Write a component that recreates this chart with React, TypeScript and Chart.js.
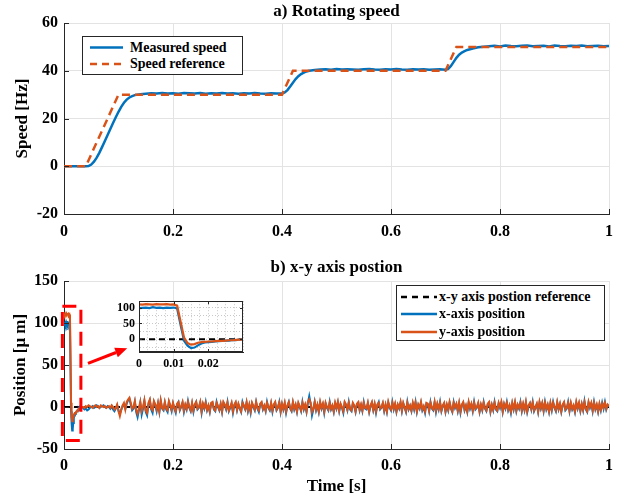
import React, { useEffect, useRef } from "react";
import { Chart, registerables } from "chart.js";
Chart.register(...registerables);

const FONT = "'Liberation Serif', 'Times New Roman', serif";
const BLUE = "#0072BD";
const ORANGE = "#D95319";
const AXIS = "#262626";
const GRID = "#e3e3e3";

// ---------- a) Rotating speed ----------
const MAIN_X_TICKS = [0, 0.2, 0.4, 0.6, 0.8, 1];
const SPEED_Y_TICKS = [-20, 0, 20, 40, 60];
const SPEED_REF_TIME = [0, 0.04, 0.1, 0.4, 0.42, 0.7, 0.72, 1];
const SPEED_REF = [0, 0, 30, 30, 40, 40, 50, 50];
const MEASURED_SPEED: [number, number][] = [
  [0, 0], [0.02, 0], [0.04, 0], [0.045, 0.1], [0.05, 0.7], [0.055, 1.9], [0.06, 3.6], [0.065, 5.7],
  [0.07, 8.1], [0.075, 10.6], [0.08, 13.1], [0.085, 15.6], [0.09, 18.1], [0.095, 20.5], [0.1, 22.8],
  [0.105, 24.9], [0.11, 26.6], [0.115, 27.9], [0.12, 28.8], [0.125, 29.4], [0.13, 29.8], [0.14, 30.2],
  [0.15, 30.4], [0.16, 30.6], [0.17, 30.5], [0.18, 30.7], [0.19, 30.5], [0.2, 30.6], [0.21, 30.4],
  [0.22, 30.7], [0.23, 30.6], [0.24, 30.5], [0.25, 30.7], [0.26, 30.4], [0.27, 30.6], [0.28, 30.5],
  [0.29, 30.7], [0.3, 30.5], [0.31, 30.6], [0.32, 30.4], [0.33, 30.6], [0.34, 30.5], [0.35, 30.7],
  [0.36, 30.5], [0.37, 30.4], [0.38, 30.6], [0.39, 30.5], [0.4, 30.5],
  [0.405, 30.9], [0.41, 31.9], [0.415, 33.4], [0.42, 35.0], [0.425, 36.5], [0.43, 37.7], [0.435, 38.6],
  [0.44, 39.2], [0.445, 39.7], [0.45, 40.0], [0.46, 40.3],
  [0.47, 40.5], [0.48, 40.6], [0.49, 40.4], [0.5, 40.7], [0.51, 40.5], [0.52, 40.6], [0.53, 40.5],
  [0.54, 40.4], [0.55, 40.6], [0.56, 40.7], [0.57, 40.5], [0.58, 40.4], [0.59, 40.6], [0.6, 40.5],
  [0.61, 40.7], [0.62, 40.5], [0.63, 40.4], [0.64, 40.6], [0.65, 40.5], [0.66, 40.6], [0.67, 40.4],
  [0.68, 40.5], [0.69, 40.6], [0.7, 40.4],
  [0.705, 40.8], [0.71, 42.0], [0.715, 43.7], [0.72, 45.4], [0.725, 46.7], [0.73, 47.6], [0.735, 48.2],
  [0.74, 48.7], [0.75, 49.3], [0.76, 49.8], [0.77, 50.1],
  [0.78, 50.3], [0.79, 50.5], [0.8, 50.2], [0.81, 50.6], [0.82, 50.4], [0.83, 50.3], [0.84, 50.5],
  [0.85, 50.6], [0.86, 50.3], [0.87, 50.4], [0.88, 50.5], [0.89, 50.2], [0.9, 50.6], [0.91, 50.4],
  [0.92, 50.3], [0.93, 50.5], [0.94, 50.4], [0.95, 50.6], [0.96, 50.3], [0.97, 50.4], [0.98, 50.5],
  [0.99, 50.3], [1, 50.4],
];

// ---------- b) x-y axis position ----------
const POS_Y_TICKS = [-50, 0, 50, 100, 150];
const POS_REF_TIME = [0, 1];
const POS_REF = [0, 0];
const TRANSIENT_TIME = [
  0, 0.001, 0.002, 0.003, 0.004, 0.005, 0.006, 0.007, 0.008, 0.009, 0.01,
  0.011, 0.012, 0.013, 0.014, 0.015, 0.016, 0.017, 0.018, 0.019, 0.02,
  0.021, 0.022, 0.023, 0.024, 0.025, 0.026, 0.027, 0.028, 0.029, 0.03,
];
const X_TRANSIENT = [
  98, 99, 100, 98, 101, 99, 100, 98, 100, 99, 100,
  97, 45, -5, -20, -28, -26, -19, -13, -10, -9,
  -8, -7, -6, -5, -4, -4, -2, -3, 0, 1,
];
const Y_TRANSIENT = [
  110, 109, 111, 110, 109, 111, 110, 110, 111, 109, 110,
  106, 55, 5, -12, -17, -15, -11, -9, -8, -7,
  -7, -6, -5, -5, -4, -3, -3, -2, -1, 0,
];
// samples every 2.5 ms from 35 ms to 1 s
const NOISE_START = 0.035;
const NOISE_STEP = 0.0025;
const X_NOISE = [
  -1, -3, -2, -4, -3, -1, 0, 1, -1, 0, 2, 1, -1, 0, 1, 2, 0, -1, 1, 0,
  -2, 1, -3, -5, -2, 2, -4, -8, -3, 1, 3, -2, 4, 8, 10, 3, -4, -2, 6, -6,
  -12, -4, 5, -9, -2, 7, -6, -10, 3, 8, -3, -7, 6, 2, -5, 4, -6, 7, -2, -4,
  5, -3, -6, 6, 1, -5, 4, -2, -7, 3, 6, -4, 0, 5, -6, 2, -3, 7, -1, -5,
  4, -6, 2, 6, -3, -1, 5, -7, 3, -2, 6, -4, 1, -6, 4, 5, -3, -5, 6, 0,
  -4, 3, -6, 5, 2, -3, 6, -5, -1, 4, -7, 2, 5, -4, 3, -2, -6, 6, 1, -3,
  5, -5, 2, -7, 4, 0, -4, 6, -2, -6, 3, 5, -3, 1, -5, 6, -1, -4, 4, -6,
  2, 5, -4, -1, 6, -6, 3, -3, 4, -7, 1, 6, -2, -5, 5, -3, 2, -6, 4, 0,
  -5, 6, -3, 2, -6, 5, 13, 4, -10, -3, 6, -4, 2, -6, 5, -2, 3, -7, 4, -1,
  -4, 6, -3, 1, -6, 4, -2, 5, -5, 3, -1, -7, 5, 2, -4, 6, -3, -5, 4, 1,
  -6, 3, 5, -4, 2, -5, 6, -2, -3, 4, -6, 1, 5, -4, 3, -7, 2, 6, -3, -1,
  4, -5, 2, -6, 5, -1, -4, 6, -3, 3, -6, 2, -2, 5, -5, 4, -1, -6, 6, -3,
  1, -5, 4, -3, 6, -6, 2, -2, 5, -4, 0, -7, 4, 3, -5, 6, -2, -4, 5, -6,
  3, -3, 6, -5, 1, 4, -6, 2, -4, 5, -2, -6, 6, -1, 3, -5, 4, -7, 2, 5,
  -4, 1, -6, 5, -2, 3, -5, 6, -3, -1, 4, -6, 2, -4, 6, -2, -5, 3, 5, -6,
  2, -4, 6, -3, -5, 4, -1, 5, -6, 3, -2, 6, -4, 1, -7, 4, -3, 5, -5, 2,
  -2, 6, -5, 3, -4, 5, -6, 1, 4, -3, 6, -5, -1, 3, -6, 5, -2, 4, -5, 6,
  -3, 2, -6, 4, -4, 6, -1, -5, 5, -3, 3, -6, 2, 5, -4, -2, 6, -5, 4, -3,
  1, -6, 5, -2, 4, -5, 3, -4, 7, -3, -6, 5, -1, 4, -5, 6, -3, 2, -6, 3,
  -4, 5, -2, 6, -3, 2, 1,
];
const Y_NOISE = [
  0, -1, 1, 0, 2, 1, 0, -1, 1, 2, 0, 1, -1, 2, 1, 0, 1, -1, 0, 1,
  -1, 2, 0, -3, -1, 3, -5, -11, -4, 2, 5, -3, 6, 9, 11, 5, -2, 0, 7, -4,
  -8, -1, 6, -5, 0, 8, -4, -7, 5, 9, -2, -4, 7, 3, -3, 5, -5, 8, -1, -3,
  6, -2, -4, 7, 2, -3, 5, -1, -5, 4, 6, -3, 1, 6, -4, 3, -2, 6, 0, -4,
  5, -4, 3, 6, -2, 0, 6, -5, 4, -1, 5, -3, 2, -5, 5, 6, -2, -4, 5, 1,
  -3, 4, -5, 6, 3, -2, 5, -4, 0, 5, -5, 3, 6, -3, 4, -1, -5, 5, 2, -2,
  6, -4, 3, -5, 5, 1, -3, 6, -1, -4, 4, 6, -2, 2, -4, 5, 0, -3, 5, -4,
  3, 6, -3, 0, 5, -5, 4, -2, 5, -5, 2, 6, -1, -4, 6, -2, 3, -5, 5, 1,
  -4, 5, -2, 3, -5, 6, 9, 5, -6, -2, 6, -3, 3, -5, 6, -1, 4, -5, 5, 0,
  -3, 5, -2, 2, -5, 5, -1, 6, -4, 4, 0, -5, 6, 3, -3, 5, -2, -4, 5, 2,
  -5, 4, 6, -3, 3, -4, 5, -1, -2, 5, -5, 2, 6, -3, 4, -5, 3, 5, -2, 0,
  5, -4, 3, -5, 6, 0, -3, 5, -2, 4, -5, 3, -1, 6, -4, 5, 0, -5, 5, -2,
  2, -4, 5, -2, 5, -5, 3, -1, 6, -3, 1, -5, 5, 4, -4, 5, -1, -3, 6, -4,
  4, -2, 5, -4, 2, 5, -5, 3, -3, 6, -1, -5, 5, 0, 4, -4, 5, -5, 3, 6,
  -3, 2, -5, 6, -1, 4, -4, 5, -2, 0, 5, -5, 3, -3, 5, -1, -4, 4, 6, -5,
  3, -3, 5, -2, -4, 5, 0, 6, -5, 4, -1, 5, -3, 2, -5, 5, -2, 6, -4, 3,
  -1, 5, -4, 4, -3, 6, -5, 2, 5, -2, 5, -4, 0, 4, -5, 6, -1, 5, -4, 5,
  -2, 3, -5, 5, -3, 5, 0, -4, 6, -2, 4, -5, 3, 6, -3, -1, 5, -4, 5, -2,
  2, -5, 6, -1, 5, -4, 4, -3, 6, -2, -5, 6, 0, 5, -4, 5, -2, 3, -5, 4,
  -3, 4, -1, 5, -2, 3, 1,
];
// zoom box and arrow annotation (data coordinates)
const ZOOM_BOX_X = [-0.003, 0.031];
const ZOOM_BOX_Y = [-40, 120];
const ARROW_TAIL = [0.044, 52];
const ARROW_HEAD = [0.116, 70];

// inset
const INSET_X_GRID = [0, 0.0025, 0.005, 0.0075, 0.01, 0.0125, 0.015, 0.0175, 0.02, 0.0225, 0.025, 0.0275, 0.03];
const INSET_Y_GRID = [-40, -25, 0, 25, 50, 75, 100, 120];
const INSET_X_LABELS = [0, 0.01, 0.02];
const INSET_Y_LABELS = [0, 50, 100];

const font = (size: number) => ({ family: FONT, size, weight: "bold" as const, lineHeight: 1.2 });
const pts = (xs: number[], ys: number[]) => xs.map((x, i) => ({ x, y: ys[i] }));
const near = (v: number, list: number[]) => list.some((l) => Math.abs(l - v) < 1e-7);

function tickMarks(xVals: number[], yVals: number[], len: number, box: boolean) {
  return {
    id: "tickMarks",
    afterDraw(chart: any) {
      const { ctx, chartArea: a, scales } = chart;
      ctx.save();
      ctx.strokeStyle = AXIS;
      ctx.lineWidth = 1;
      ctx.beginPath();
      xVals.forEach((v) => {
        const px = Math.round(scales.x.getPixelForValue(v)) + 0.5;
        ctx.moveTo(px, a.bottom);
        ctx.lineTo(px, a.bottom - len);
        if (box) {
          ctx.moveTo(px, a.top);
          ctx.lineTo(px, a.top + len);
        }
      });
      yVals.forEach((v) => {
        const py = Math.round(scales.y.getPixelForValue(v)) + 0.5;
        ctx.moveTo(a.left, py);
        ctx.lineTo(a.left + len, py);
        if (box) {
          ctx.moveTo(a.right, py);
          ctx.lineTo(a.right - len, py);
        }
      });
      ctx.stroke();
      if (box) {
        ctx.strokeRect(Math.round(a.left) + 0.5, Math.round(a.top) + 0.5, Math.round(a.right - a.left) - 1, Math.round(a.bottom - a.top) - 1);
      }
      ctx.restore();
    },
  };
}

const whitePlot = {
  id: "whitePlot",
  beforeDraw(chart: any) {
    const { ctx, chartArea: a } = chart;
    ctx.save();
    ctx.fillStyle = "#ffffff";
    ctx.fillRect(a.left, a.top, a.right - a.left, a.bottom - a.top);
    ctx.restore();
  },
};

const arrowPlugin = {
  id: "arrow",
  afterDatasetsDraw(chart: any) {
    const { ctx, scales } = chart;
    const x1 = scales.x.getPixelForValue(ARROW_TAIL[0]);
    const y1 = scales.y.getPixelForValue(ARROW_TAIL[1]);
    const x2 = scales.x.getPixelForValue(ARROW_HEAD[0]);
    const y2 = scales.y.getPixelForValue(ARROW_HEAD[1]);
    const ang = Math.atan2(y2 - y1, x2 - x1);
    const hl = 12, hw = 5;
    const bx = x2 - hl * Math.cos(ang), by = y2 - hl * Math.sin(ang);
    ctx.save();
    ctx.strokeStyle = "#ff0000";
    ctx.fillStyle = "#ff0000";
    ctx.lineWidth = 3;
    ctx.beginPath();
    ctx.moveTo(x1, y1);
    ctx.lineTo(bx, by);
    ctx.stroke();
    ctx.beginPath();
    ctx.moveTo(x2, y2);
    ctx.lineTo(bx + hw * Math.sin(ang), by - hw * Math.cos(ang));
    ctx.lineTo(bx - hw * Math.sin(ang), by + hw * Math.cos(ang));
    ctx.closePath();
    ctx.fill();
    ctx.restore();
  },
};

const fmtMainX = (v: any) => String(Math.round(Number(v) * 10) / 10);

function topConfig(): any {
  return {
    type: "line",
    data: {
      datasets: [
        {
          data: pts(SPEED_REF_TIME, SPEED_REF),
          borderColor: ORANGE,
          borderWidth: 2.5,
          borderDash: [8, 5],
          pointRadius: 0,
          order: 1,
        },
        {
          data: MEASURED_SPEED.map(([x, y]) => ({ x, y })),
          borderColor: BLUE,
          borderWidth: 2.5,
          pointRadius: 0,
          order: 2,
        },
      ],
    },
    options: {
      animation: false,
      responsive: false,
      events: [],
      layout: { padding: { left: 0, right: 23, top: 0, bottom: 0 } },
      elements: { line: { tension: 0 }, point: { radius: 0 } },
      plugins: {
        legend: { display: false },
        tooltip: { enabled: false },
        title: { display: true, fullSize: false, text: "a) Rotating speed", color: "#000", font: font(17), padding: { top: 1, bottom: 1.6 } },
      },
      scales: {
        x: {
          type: "linear", min: 0, max: 1,
          afterBuildTicks: (s: any) => { s.ticks = MAIN_X_TICKS.map((value) => ({ value })); },
          ticks: { color: "#000", font: font(16), padding: 8, maxRotation: 0, autoSkip: false, callback: fmtMainX },
          grid: { color: GRID, drawTicks: false },
          border: { color: AXIS, width: 1 },
          afterFit: (s: any) => { s.height = 38; },
        },
        y: {
          type: "linear", min: -20, max: 60,
          afterBuildTicks: (s: any) => { s.ticks = SPEED_Y_TICKS.map((value) => ({ value })); },
          ticks: { color: "#000", font: font(16), padding: 6, callback: (v: any) => String(v) },
          grid: { color: GRID, drawTicks: false },
          border: { color: AXIS, width: 1 },
          title: { display: true, text: "Speed [Hz]", color: "#000", font: font(17), padding: { top: 12, bottom: 0 } },
          afterFit: (s: any) => { s.width = 64; },
        },
      },
    },
    plugins: [tickMarks(MAIN_X_TICKS, SPEED_Y_TICKS, 5, false)],
  };
}

function positionSeries() {
  const xs = [
    ...pts(TRANSIENT_TIME, X_TRANSIENT),
    ...X_NOISE.map((y, i) => ({ x: +(NOISE_START + i * NOISE_STEP).toFixed(4), y })),
  ];
  const ys = [
    ...pts(TRANSIENT_TIME, Y_TRANSIENT),
    ...Y_NOISE.map((y, i) => ({ x: +(NOISE_START + i * NOISE_STEP).toFixed(4), y })),
  ];
  return { xs, ys };
}

function bottomConfig(): any {
  const { xs, ys } = positionSeries();
  const box = [
    { x: ZOOM_BOX_X[0], y: ZOOM_BOX_Y[1] },
    { x: ZOOM_BOX_X[1], y: ZOOM_BOX_Y[1] },
    { x: ZOOM_BOX_X[1], y: ZOOM_BOX_Y[0] },
    { x: ZOOM_BOX_X[0], y: ZOOM_BOX_Y[0] },
    { x: ZOOM_BOX_X[0], y: ZOOM_BOX_Y[1] },
  ];
  return {
    type: "line",
    data: {
      datasets: [
        { data: box, borderColor: "#ff0000", borderWidth: 3, borderDash: [14, 8], pointRadius: 0, clip: false, order: 0 },
        { data: ys, borderColor: ORANGE, borderWidth: 2, pointRadius: 0, order: 1 },
        { data: xs, borderColor: BLUE, borderWidth: 2, pointRadius: 0, order: 2 },
        { data: pts(POS_REF_TIME, POS_REF), borderColor: "#000", borderWidth: 2, borderDash: [6, 4], pointRadius: 0, order: 3 },
      ],
    },
    options: {
      animation: false,
      responsive: false,
      events: [],
      layout: { padding: { left: 0, right: 23, top: 0, bottom: 0 } },
      elements: { line: { tension: 0 }, point: { radius: 0 } },
      plugins: {
        legend: { display: false },
        tooltip: { enabled: false },
        title: { display: true, fullSize: false, text: "b) x-y axis postion", color: "#000", font: font(17), padding: { top: 5.5, bottom: 3.1 } },
      },
      scales: {
        x: {
          type: "linear", min: 0, max: 1,
          afterBuildTicks: (s: any) => { s.ticks = MAIN_X_TICKS.map((value) => ({ value })); },
          ticks: { color: "#000", font: font(16), padding: 7, maxRotation: 0, autoSkip: false, callback: fmtMainX },
          grid: { color: GRID, drawTicks: false },
          border: { color: AXIS, width: 1 },
          title: { display: true, text: "Time [s]", color: "#000", font: font(17), padding: { top: 0, bottom: 7 } },
          afterFit: (s: any) => { s.height = 55; },
        },
        y: {
          type: "linear", min: -50, max: 150,
          afterBuildTicks: (s: any) => { s.ticks = POS_Y_TICKS.map((value) => ({ value })); },
          ticks: { color: "#000", font: font(16), padding: 6, callback: (v: any) => String(v) },
          grid: { color: GRID, drawTicks: false },
          border: { color: AXIS, width: 1 },
          title: { display: true, text: "Position [μ m]", color: "#000", font: font(17), padding: { top: 10, bottom: 0 } },
          afterFit: (s: any) => { s.width = 64; },
        },
      },
    },
    plugins: [tickMarks(MAIN_X_TICKS, POS_Y_TICKS, 5, false), arrowPlugin],
  };
}

function insetConfig(): any {
  const { xs, ys } = positionSeries();
  const dotted = { color: "#c8c8c8", drawTicks: false, lineWidth: 1 };
  return {
    type: "line",
    data: {
      datasets: [
        { data: ys, borderColor: ORANGE, borderWidth: 2.2, pointRadius: 0, order: 1 },
        { data: xs, borderColor: BLUE, borderWidth: 2.2, pointRadius: 0, order: 2 },
        { data: pts(POS_REF_TIME, POS_REF), borderColor: "#000", borderWidth: 2, borderDash: [6, 4], pointRadius: 0, order: 3 },
      ],
    },
    options: {
      animation: false,
      responsive: false,
      events: [],
      layout: { padding: { left: 0, right: 7, top: 10, bottom: 0 } },
      elements: { line: { tension: 0 }, point: { radius: 0 } },
      plugins: { legend: { display: false }, tooltip: { enabled: false }, title: { display: false } },
      scales: {
        x: {
          type: "linear", min: 0, max: 0.03,
          afterBuildTicks: (s: any) => { s.ticks = INSET_X_GRID.map((value) => ({ value })); },
          ticks: {
            color: "#000", font: font(12), padding: 5, maxRotation: 0, autoSkip: false,
            callback: (v: any) => (near(Number(v), INSET_X_LABELS) ? String(Math.round(Number(v) * 100) / 100) : ""),
          },
          grid: dotted,
          border: { color: AXIS, width: 1, dash: [1, 2] },
          afterFit: (s: any) => { s.height = 23; },
        },
        y: {
          type: "linear", min: -40, max: 120,
          afterBuildTicks: (s: any) => { s.ticks = INSET_Y_GRID.map((value) => ({ value })); },
          ticks: {
            color: "#000", font: font(12), padding: 4, autoSkip: false,
            callback: (v: any) => (near(Number(v), INSET_Y_LABELS) ? String(v) : ""),
          },
          grid: dotted,
          border: { color: AXIS, width: 1, dash: [1, 2] },
          afterFit: (s: any) => { s.width = 44; },
        },
      },
    },
    plugins: [whitePlot, tickMarks(INSET_X_LABELS, INSET_Y_LABELS, 3, true)],
  };
}

type Row = { label: string; color: string; dash?: string; cy: number };

function Legend(props: { left: number; top: number; width: number; height: number; x1: number; x2: number; tx: number; rows: Row[] }) {
  const { left, top, width, height, x1, x2, tx, rows } = props;
  return (
    <div
      style={{
        position: "absolute", left, top, width, height, boxSizing: "border-box",
        border: `1px solid ${AXIS}`, background: "#fff",
      }}
    >
      <svg width={width} height={height} style={{ position: "absolute", left: -1, top: -1 }}>
        {rows.map((r, i) => (
          <line key={i} x1={x1} x2={x2} y1={r.cy} y2={r.cy} stroke={r.color} strokeWidth={2.5} strokeDasharray={r.dash} />
        ))}
      </svg>
      {rows.map((r, i) => (
        <div
          key={i}
          style={{
            position: "absolute", left: tx - 1, top: r.cy - 9, height: 18, lineHeight: "18px",
            font: `bold 14px ${FONT}`, color: "#000", whiteSpace: "nowrap",
          }}
        >
          {r.label}
        </div>
      ))}
    </div>
  );
}

export default function App() {
  const topRef = useRef<HTMLCanvasElement>(null);
  const botRef = useRef<HTMLCanvasElement>(null);
  const insetRef = useRef<HTMLCanvasElement>(null);

  useEffect(() => {
    Chart.defaults.font.family = FONT;
    const charts: Chart[] = [];
    if (topRef.current) charts.push(new Chart(topRef.current, topConfig()));
    if (botRef.current) charts.push(new Chart(botRef.current, bottomConfig()));
    if (insetRef.current) charts.push(new Chart(insetRef.current, insetConfig()));
    return () => charts.forEach((c) => c.destroy());
  }, []);

  return (
    <div style={{ position: "absolute", left: 0, top: 0, width: 632, height: 504, background: "#fff", overflow: "hidden" }}>
      <canvas ref={topRef} width={632} height={252} style={{ position: "absolute", left: 0, top: 0 }} />
      <canvas ref={botRef} width={632} height={252} style={{ position: "absolute", left: 0, top: 252 }} />
      <canvas ref={insetRef} width={155} height={85} style={{ position: "absolute", left: 95, top: 290 }} />
      <Legend
        left={82} top={36} width={161} height={39} x1={8} x2={41} tx={48}
        rows={[
          { label: "Measured speed", color: BLUE, cy: 11.5 },
          { label: "Speed reference", color: ORANGE, dash: "7 5", cy: 28 },
        ]}
      />
      <Legend
        left={396} top={285} width={209} height={56} x1={5} x2={41} tx={43}
        rows={[
          { label: "x-y axis postion reference", color: "#000", dash: "6 5", cy: 12 },
          { label: "x-axis position", color: BLUE, cy: 29 },
          { label: "y-axis position", color: ORANGE, cy: 47 },
        ]}
      />
    </div>
  );
}
